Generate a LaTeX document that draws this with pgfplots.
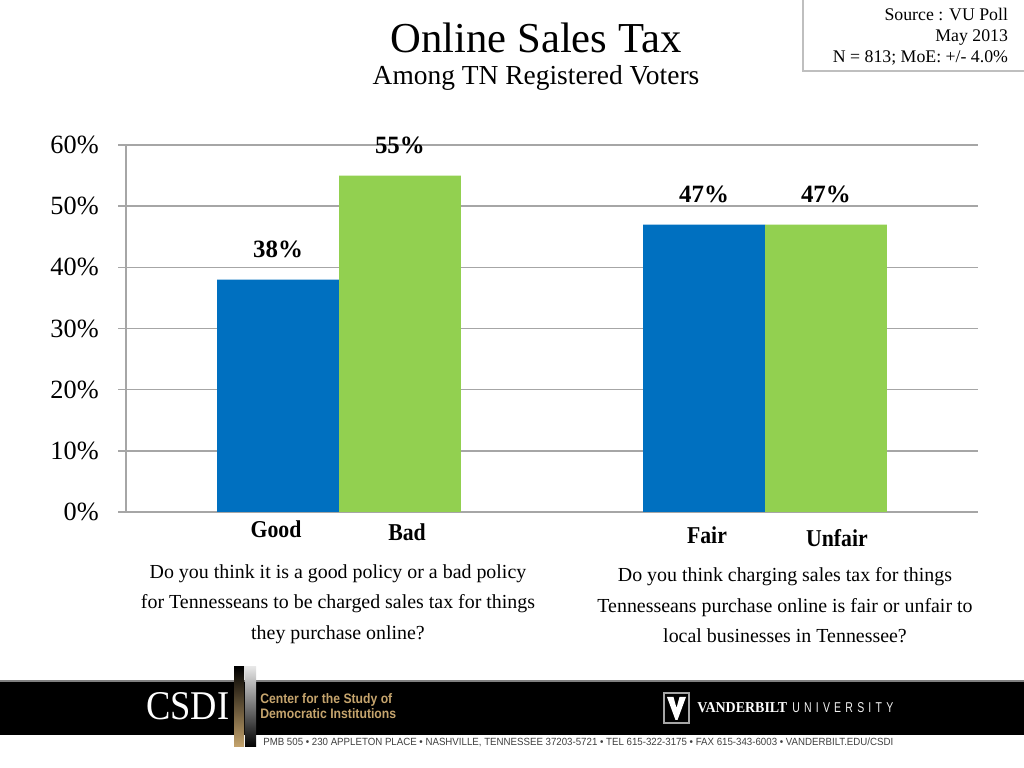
\documentclass[border=0pt]{standalone}
\usepackage{fontspec}
\setmainfont{Liberation Serif}
\newfontfamily\condbold[FakeStretch=0.9]{Liberation Serif}
\newfontfamily\sansfont{Liberation Sans}
\newfontfamily\spacedsans[LetterSpace=40]{Liberation Sans}
\usepackage{graphicx}
\usepackage{pgfplots}
\pgfplotsset{compat=1.18}

\definecolor{barblue}{HTML}{0070C0}
\definecolor{bargreen}{HTML}{92D050}
\definecolor{gridgray}{HTML}{A6A6A6}
\definecolor{csdigold}{HTML}{C5A46D}
\definecolor{addrgray}{HTML}{404040}

% font size in bp
\newcommand{\fs}[2]{\fontsize{#1bp}{#2bp}\selectfont}

% survey results (percent)
\pgfplotstableread{
x val
0 38
1 47
}\bluedata
\pgfplotstableread{
x val
0 55
1 47
}\greendata

\begin{document}
% 1 unit = 1 pixel of the 1024x768 slide, y counted upwards from the bottom
\begin{tikzpicture}[x=0.703125bp,y=0.703125bp]
\useasboundingbox (0,0) rectangle (1024,768);
\fill[white] (0,0) rectangle (1024,768);
\coordinate (plotorigin) at (126,256);

% titles
\node[anchor=base, font=\fs{30}{36}] at (536,715) {Online Sales Tax};
\node[anchor=base, font=\fs{19.3}{23}] at (536,683) {Among TN Registered Voters};

% source box
\draw[gray!50, line width=0.8bp] (803,771) rectangle (1027,697);
\node[anchor=base east, font=\fs{12.5}{15}] at (1013,747) {Source : VU Poll};
\node[anchor=base east, font=\fs{12.5}{15}] at (1013,726) {May 2013};
\node[anchor=base east, font=\fs{12.5}{15}] at (1013,705) {N = 813; MoE: +/- 4.0\%};

\begin{axis}[
    at={(plotorigin)}, anchor=south west,
    scale only axis, width=599.06bp, height=258.05bp,
    xmin=-0.5, xmax=1.5, ymin=0, ymax=60,
    axis lines=left,
    axis line style={-, draw=gridgray, line width=1.3bp},
    xtick=\empty,
    ytick={0,10,...,60},
    yticklabel={\pgfmathprintnumber{\tick}\%},
    yticklabel style={font=\fs{18.5}{22}, inner sep=0pt, xshift=-13.4bp},
    ymajorgrids=true,
    grid style={draw=gridgray, line width=1bp},
    tick align=outside,
    major tick length=5.6bp,
    tick style={draw=gridgray, line width=1bp},
    /pgf/number format/assume math mode=true,
    clip=false,
    ybar, bar width=0.286,
    nodes near coords={\pgfmathprintnumber{\pgfplotspointmeta}\%},
    every node near coord/.append style={font=\bfseries\fs{17.5}{20}, anchor=base, yshift=15.5bp, text=black},
]
\addplot[fill=barblue, draw=none, bar shift=-0.143] table[x=x, y=val] {\bluedata};
\addplot[fill=bargreen, draw=none, bar shift=0.143] table[x=x, y=val] {\greendata};
\end{axis}

% answer labels
\node[font=\condbold\bfseries\fs{17}{20}] at (276,239) {Good};
\node[font=\condbold\bfseries\fs{17}{20}] at (407,236) {Bad};
\node[font=\condbold\bfseries\fs{17}{20}] at (707,233) {Fair};
\node[font=\condbold\bfseries\fs{17}{20}] at (837,230) {Unfair};

% questions
\node[align=center, font=\fs{14}{21.4}] at (338,164) {Do you think it is a good policy or a bad policy\\for Tennesseans to be charged sales tax for things\\they purchase online?};
\node[align=center, font=\fs{14}{21.4}] at (785,162.5) {Do you think charging sales tax for things\\Tennesseans purchase online is fair or unfair to\\local businesses in Tennessee?};

% footer band
\fill[black] (0,87) rectangle (1024,33);
\draw[gray, line width=0.8bp] (0,87) -- (1024,87);
\node[anchor=base west, inner sep=0pt, text=white] at (146,48) {\resizebox{58.4bp}{19bp}{CSDI}};
\shade[top color=black, middle color=gray, bottom color=csdigold] (234,21) rectangle (244,101);
\shade[top color=gray!20, bottom color=black] (245,21) rectangle (256,101);
\node[anchor=base west, inner sep=0pt, text=csdigold] at (260,64) {\resizebox{92.8bp}{7bp}{\sansfont\bfseries Center for the Study of}};
\node[anchor=base west, inner sep=0pt, text=csdigold] at (260,49) {\resizebox{95.6bp}{7bp}{\sansfont\bfseries Democratic Institutions}};
\node[anchor=base west, inner sep=0pt, text=addrgray] at (263,22) {\resizebox{443bp}{5.3bp}{\sansfont PMB 505 \textbullet{} 230 APPLETON PLACE \textbullet{} NASHVILLE, TENNESSEE 37203-5721 \textbullet{} TEL 615-322-3175 \textbullet{} FAX 615-343-6003 \textbullet{} VANDERBILT.EDU/CSDI}};

% Vanderbilt mark
\draw[gray!70, line width=0.8bp] (664,75) rectangle (689,45);
\fill[white] (667,71) -- (673.5,71) -- (676.5,60) -- (679.5,71) -- (686,71) -- (677.5,48) -- (675.5,48) -- cycle;
\node[anchor=base west, inner sep=0pt, text=white] at (697,55) {\resizebox{63.3bp}{7bp}{\bfseries VANDERBILT}};
\node[anchor=base west, inner sep=0pt, text=white!90!gray] at (792,55) {\resizebox{71bp}{7bp}{\spacedsans UNIVERSITY}};
\end{tikzpicture}
\end{document}
